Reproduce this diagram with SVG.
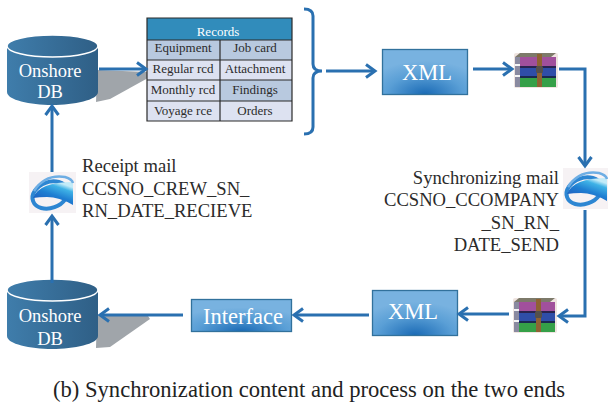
<svg xmlns="http://www.w3.org/2000/svg" width="608" height="404" viewBox="0 0 608 404">
<style>
text{font-family:"Liberation Serif","Times New Roman",serif}
.lbl{font-size:18.6px;fill:#2b2b2b}
.cell{font-size:13px;fill:#2b2b2b;text-anchor:middle}
.wt{fill:#fff;text-anchor:middle}
.con{fill:none;stroke:#2a70b0;stroke-width:3}
.grid{fill:none;stroke:#2a2a2a;stroke-width:1.2}
.shadow{fill:#a0a5aa}
.box{stroke:#31719c;stroke-width:1.3;fill:url(#box)}
</style>
<defs>
<marker id="arr" markerUnits="userSpaceOnUse" markerWidth="14" markerHeight="16" refX="11" refY="8" orient="auto"><path d="M2 1.5L11 8L2 14.5" fill="none" stroke="#2a70b0" stroke-width="3"/></marker>
<linearGradient id="cyl" x1="0" x2="1" y1="0" y2="0"><stop offset="0" stop-color="#3f7dab"/><stop offset="1" stop-color="#2f5f86"/></linearGradient>
<radialGradient id="box" cx="0.5" cy="1" r="0.75"><stop offset="0" stop-color="#1a6ab5"/><stop offset="0.6" stop-color="#5a9fd6"/><stop offset="1" stop-color="#78b2e0"/></radialGradient>
<linearGradient id="ie" x1="0" x2="0.6" y1="1" y2="0"><stop offset="0" stop-color="#1f4cb4"/><stop offset="0.55" stop-color="#1f7fd2"/><stop offset="0.85" stop-color="#3fb2e6"/><stop offset="1" stop-color="#c2ebf8"/></linearGradient>
<g id="rar">
<rect x="0" y="0" width="44" height="35" rx="2" fill="#efe4e0"/>
<path d="M1 4L6 0H42L37 4Z" fill="#7d7a6a"/>
<path d="M1 4H6V34H1Z" fill="#8a8aa0"/>
<path d="M1 12H6M1 23H6" stroke="#f4f4f4" stroke-width="2"/>
<rect x="6" y="4" width="36" height="9" fill="#a1509c"/>
<rect x="6" y="13" width="36" height="2" fill="#2a2450"/>
<rect x="6" y="15" width="36" height="8" fill="#2f4ea8"/>
<rect x="6" y="23" width="36" height="2" fill="#1a2a50"/>
<rect x="6" y="25" width="36" height="9" fill="#35a048"/>
<rect x="23" y="1" width="5" height="33" fill="#8f6233"/>
<rect x="22" y="13" width="7" height="7" rx="1.500" fill="#55504c"/>
</g>
<g id="mail">
<rect x="-24" y="-20" width="47" height="41" fill="#f6f2f4"/>
<ellipse cx="-3" cy="3" rx="18" ry="13" transform="rotate(-20 -3 3)" fill="none" stroke="#2d86d2" stroke-width="4"/>
<path d="M-20 6Q-14 -10 20 -10L20 13Q6 5 -6 5Q-14 5 -20 6Z" fill="url(#ie)"/>
<path d="M-19 -1Q-8 -18 12 -15Q19 -13 20 -9" fill="none" stroke="#6eaee4" stroke-width="2.500"/>
</g>
<g id="cylinder">
<path d="M7 46V92C7 100 30 105 52 105C74 105 98 100 98 92V46Z" fill="url(#cyl)"/>
<ellipse cx="52.500" cy="46" rx="45.500" ry="11" fill="url(#cyl)" stroke="#fff" stroke-width="1.500"/>
</g>
</defs>
<rect width="608" height="404" fill="#fff"/>
<g id="db-top">
<path class="shadow" d="M97 70L148 72V78L110 99L96 102Z"/>
<use href="#cylinder"/>
<text class="wt" x="50" y="77" font-size="18.500">Onshore</text><text class="wt" x="50" y="98" font-size="18.500">DB</text></g>
<g id="db-bottom">
<path class="shadow" d="M97 315L148 316L150 319L110 347L96 348Z"/>
<use href="#cylinder" y="244"/>
<text class="wt" x="50" y="322" font-size="18.500">Onshore</text><text class="wt" x="50" y="345" font-size="18.500">DB</text></g>
<g id="records">
<rect x="147" y="18" width="145" height="22" fill="#318cbb"/>
<rect x="147" y="40" width="145" height="20" fill="#b8c9df"/>
<rect x="147" y="60" width="145" height="20" fill="#dde2f1"/>
<rect x="147" y="80" width="73" height="21" fill="#dde2f1"/><rect x="220" y="80" width="72" height="21" fill="#b8c9df"/>
<rect x="147" y="101" width="145" height="20" fill="#dde2f1"/>
<path class="grid" d="M147 18H292V121H147ZM147 40H292M147 60H292M147 80H292M147 101H292M220 40V121"/>
<text class="wt" x="218" y="36" font-size="13">Records</text>
<text class="cell" x="183" y="52">Equipment</text><text class="cell" x="255" y="52">Job card</text>
<text class="cell" x="183" y="73">Regular rcd</text><text class="cell" x="255" y="73">Attachment</text>
<text class="cell" x="183" y="94">Monthly rcd</text><text class="cell" x="255" y="94">Findings</text>
<text class="cell" x="183" y="115">Voyage rce</text><text class="cell" x="255" y="115">Orders</text>
</g>
<g id="xml-top"><rect class="box" x="382.500" y="49.500" width="85" height="45"/><text class="wt" x="427" y="80" font-size="22.500">XML</text></g>
<g id="xml-bottom"><rect class="box" x="372.500" y="290.500" width="85" height="45"/><text class="wt" x="413" y="319" font-size="22.500">XML</text></g>
<g id="interface"><rect class="box" x="191.500" y="299.500" width="100" height="32"/><text class="wt" x="243" y="324" font-size="22.500">Interface</text></g>
<g id="rar-top"><use href="#rar" x="514" y="53"/></g>
<g id="rar-bottom"><use href="#rar" x="513" y="298"/></g>
<g id="mail-right"><use href="#mail" x="587" y="188"/></g>
<g id="mail-left"><use href="#mail" x="53" y="192"/></g>
<g id="connectors">
<path class="con" d="M99 69H146" marker-end="url(#arr)"/>
<path class="con" d="M304 9Q313 9 313 16V64Q313 71 322 71Q313 71 313 78V127Q313 134 304 134"/>
<path class="con" d="M326 71H375" marker-end="url(#arr)"/>
<path class="con" d="M473 69H512" marker-end="url(#arr)"/>
<path class="con" d="M559 69H585V166" marker-end="url(#arr)"/>
<path class="con" d="M585 210V316H559" marker-end="url(#arr)"/>
<path class="con" d="M509 314H459" marker-end="url(#arr)"/>
<path class="con" d="M369 315H294" marker-end="url(#arr)"/>
<path class="con" d="M183 315H100" marker-end="url(#arr)"/>
<path class="con" d="M52 283V216" marker-end="url(#arr)"/>
<path class="con" d="M52 172V106" marker-end="url(#arr)"/>
</g>
<g id="labels">
<text class="lbl" x="82" y="172">Receipt mail</text>
<text class="lbl" x="82" y="195">CCSNO_CREW_SN_</text>
<text class="lbl" x="82" y="217">RN_DATE_RECIEVE</text>
<g text-anchor="end">
<text class="lbl" x="559" y="184">Synchronizing mail</text>
<text class="lbl" x="559" y="206">CCSNO_CCOMPANY</text>
<text class="lbl" x="559" y="229">_SN_RN_</text>
<text class="lbl" x="559" y="251">DATE_SEND</text>
</g>
<text x="309" y="397" font-size="22.600" fill="#222" text-anchor="middle">(b) Synchronization content and process on the two ends</text>
</g>
</svg>
